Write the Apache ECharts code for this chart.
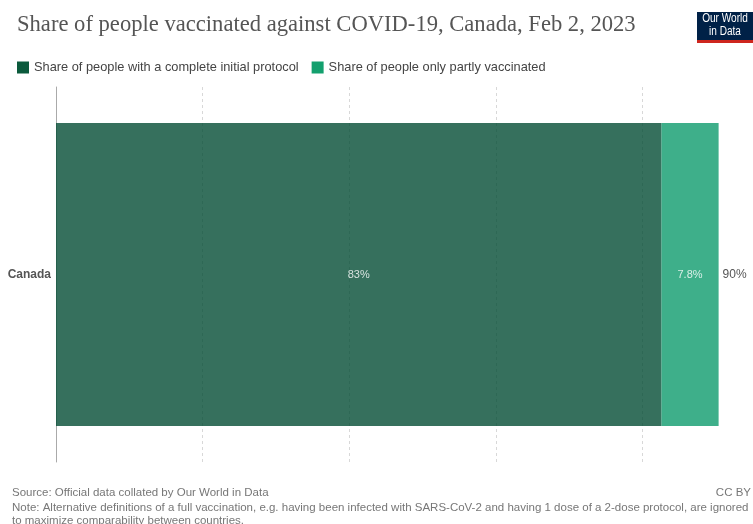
<!DOCTYPE html>
<html><head><meta charset="utf-8">
<script src="https://cdn.jsdelivr.net/npm/echarts@6/dist/echarts.min.js"></script>
<style>html,body{margin:0;padding:0;background:#fff}#c{width:753px;height:524px}</style>
</head><body><div id="c"></div>
<script>
const categories = ['Canada'];
const seriesNames = ['Share of people with a complete initial protocol', 'Share of people only partly vaccinated'];
const complete = [82.6];
const partly = [7.8];
const completeLabels = ['83%'];
const partlyLabels = ['7.8%'];
const totalLabels = ['90%'];

const chart = echarts.init(document.getElementById('c'), null, {renderer: 'canvas'});
const sans = 'Liberation Sans, Arial, sans-serif';
chart.setOption({
  animation: false,
  backgroundColor: '#fff',
  title: {
    text: 'Share of people vaccinated against COVID-19, Canada, Feb 2, 2023',
    left: 12, top: 9,
    textStyle: {fontFamily: 'Liberation Serif, DejaVu Serif, serif', fontWeight: 'normal', fontSize: 22.6, color: '#555'}
  },
  legend: {
    left: 12, top: 56, itemWidth: 12, itemHeight: 12, itemGap: 13, icon: 'rect',
    textStyle: {fontFamily: sans, fontSize: 12.8, color: '#444'},
    data: [
      {name: seriesNames[0], itemStyle: {color: '#0b5a3c', opacity: 1}},
      {name: seriesNames[1], itemStyle: {color: '#13a06e', opacity: 1}}
    ]
  },
  grid: {left: 56, top: 87, bottom: 62, right: 8, containLabel: false},
  xAxis: {
    type: 'value', min: 0, max: 94, interval: 20,
    axisLabel: {show: false}, axisLine: {show: false}, axisTick: {show: false},
    splitLine: {show: true, showMinLine: true, showMaxLine: false, lineStyle: {color: '#d8d8d8', type: [3, 3]}}
  },
  yAxis: {
    type: 'category', data: categories,
    axisLine: {show: true, lineStyle: {color: '#aaaaaa', width: 1}},
    axisTick: {show: false},
    axisLabel: {fontFamily: sans, fontWeight: 'bold', fontSize: 12, color: '#555', margin: 5}
  },
  series: [
    {
      name: seriesNames[0], type: 'bar', stack: 't', data: complete, barWidth: 303,
      itemStyle: {color: '#044c34', opacity: 0.8},
      label: {show: true, position: 'inside', color: '#fff', fontFamily: sans, fontSize: 11,
        formatter: p => completeLabels[p.dataIndex]}
    },
    {
      name: seriesNames[1], type: 'bar', stack: 't', data: partly, barWidth: 303,
      itemStyle: {color: '#0e9b6d', opacity: 0.8},
      label: {show: true, position: 'inside', color: '#fff', fontFamily: sans, fontSize: 11,
        formatter: p => partlyLabels[p.dataIndex]}
    },
    {
      name: 'total', type: 'bar', stack: 't', data: categories.map(() => 0), barWidth: 303,
      itemStyle: {color: 'transparent'},
      label: {show: true, position: 'right', distance: 4, color: '#555', fontFamily: sans, fontSize: 12,
        formatter: p => totalLabels[p.dataIndex]}
    }
  ],
  graphic: [
    {type: 'rect', left: 697, top: 12, shape: {width: 56, height: 28}, style: {fill: '#002147'}},
    {type: 'rect', left: 697, top: 40, shape: {width: 56, height: 3}, style: {fill: '#ce261e'}},
    {type: 'text', x: 725, y: 13, scaleX: 0.84, style: {text: 'Our World', fill: '#fff', align: 'center', font: '12px Liberation Sans, sans-serif'}},
    {type: 'text', x: 725, y: 26, scaleX: 0.84, style: {text: 'in Data', fill: '#fff', align: 'center', font: '12px Liberation Sans, sans-serif'}},
    {type: 'text', left: 12, top: 487, style: {text: 'Source: Official data collated by Our World in Data', fill: '#777', font: '11.5px Liberation Sans, sans-serif'}},
    {type: 'text', right: 2, top: 487, style: {text: 'CC BY', fill: '#777', font: '11.5px Liberation Sans, sans-serif'}},
    {type: 'text', left: 12, top: 502, style: {text: 'Note: Alternative definitions of a full vaccination, e.g. having been infected with SARS-CoV-2 and having 1 dose of a 2-dose protocol, are ignored', fill: '#777', font: '11.5px Liberation Sans, sans-serif'}},
    {type: 'text', left: 12, top: 515, style: {text: 'to maximize comparability between countries.', fill: '#777', font: '11.5px Liberation Sans, sans-serif'}}
  ]
});
</script></body></html>
